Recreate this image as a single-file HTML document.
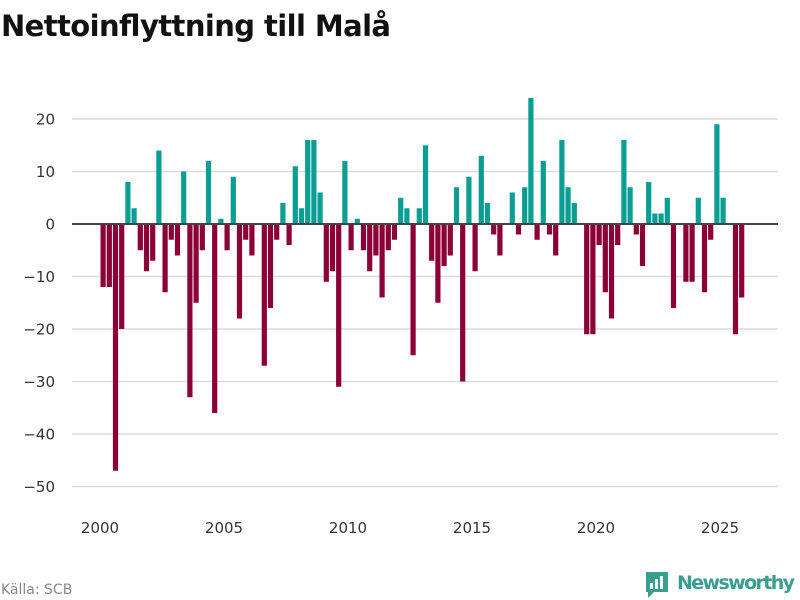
<!DOCTYPE html>
<html><head><meta charset="utf-8"><style>
body{margin:0;background:#fff;font-family:"DejaVu Sans","Liberation Sans",sans-serif}
#wrap{position:relative;width:800px;height:600px;overflow:hidden}
</style></head><body>
<div id="wrap">
<svg id="svg" width="800" height="600" xmlns="http://www.w3.org/2000/svg" font-family="DejaVu Sans, Liberation Sans, sans-serif">
<text x="1" y="36" font-size="29" font-weight="bold" fill="#111" textLength="390">Nettoinflyttning till Malå</text>
<g id="grid"></g><g id="bars"></g><g id="axes"></g>
<text x="1" y="594" font-size="14" fill="#888">Källa: SCB</text>
<g>
<path d="M646 572 h22 v20 h-14 l-6 6 v-6 h-2 z" fill="#3a9e8f"/>
<rect x="650" y="583" width="3" height="6" fill="#fff"/><rect x="655" y="579" width="3" height="10" fill="#fff"/><rect x="660" y="576" width="3" height="13" fill="#fff"/>
<text x="677" y="589" font-size="19" font-weight="bold" fill="#3a9e8f" textLength="118">Newsworthy</text>
</g>
</svg></div>
<script>
const values=[-12,-12,-47,-20,8,3,-5,-9,-7,14,-13,-3,-6,10,-33,-15,-5,12,-36,1,-5,9,-18,-3,-6,0,-27,-16,-3,4,-4,11,3,16,16,6,-11,-9,-31,12,-5,1,-5,-9,-6,-14,-5,-3,5,3,-25,3,15,-7,-15,-8,-6,7,-30,9,-9,13,4,-2,-6,0,6,-2,7,24,-3,12,-2,-6,16,7,4,0,-21,-21,-4,-13,-18,-4,16,7,-2,-8,8,2,2,5,-16,0,-11,-11,5,-13,-3,19,5,0,-21,-14];
const startYear=2000;
const yTicks=[20,10,0,-10,-20,-30,-40,-50];
const xTicks=[2000,2005,2010,2015,2020,2025];
const NS="http://www.w3.org/2000/svg";
const x=t=>100+(t-2000)*24.8;
const y=v=>224-v*5.25;
function mk(tag,attrs,parent,txt){const e=document.createElementNS(NS,tag);for(const k in attrs)e.setAttribute(k,attrs[k]);if(txt!==undefined)e.textContent=txt;document.getElementById(parent).appendChild(e);return e;}
yTicks.forEach(v=>{
 if(v!==0){const l=mk('line',{x1:72,x2:778,y1:y(v),y2:y(v),stroke:'#dcdcdc','stroke-width':1.5},'grid');
 
 }
 const t=mk('text',{x:55,y:y(v)+5.5,'text-anchor':'end','font-size':15,fill:'#333'},'axes',String(v).replace('-','−'));
 
 
});
xTicks.forEach(yr=>{
 const t=mk('text',{x:x(yr),y:533,'text-anchor':'middle','font-size':15,fill:'#333'},'axes',String(yr));
 
 
});
values.forEach((v,i)=>{
 const t=startYear+i*0.25+0.125;
 const top=v>=0?y(v):y(0);const h=Math.abs(y(v)-y(0));
 const r=mk('rect',{x:x(t)-2.6,y:top,width:5.2,height:h,fill:v>=0?'#0a9e94':'#8c0038'},'bars');
 
 
});
const z=mk('line',{x1:72,x2:778,y1:y(0),y2:y(0),stroke:'#444','stroke-width':2},'axes');


</script>
</body></html>
